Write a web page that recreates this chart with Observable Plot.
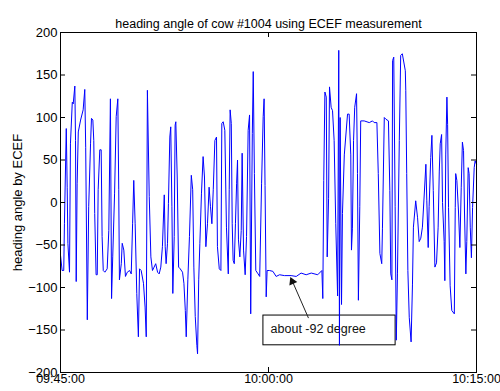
<!DOCTYPE html>
<html>
<head>
<meta charset="utf-8">
<script src="https://cdn.jsdelivr.net/npm/d3@7"></script>
<script src="https://cdn.jsdelivr.net/npm/@observablehq/plot@0.6"></script>
<style>
  html, body { margin: 0; padding: 0; background: #fff; }
</style>
</head>
<body>
<div id="chart"></div>
<script>
// ---------- data ----------
const chartTitle = "heading angle of cow #1004 using ECEF measurement";
const yAxisLabel = "heading angle by ECEF";
const startTime = "09:45:00";
const endTime = "10:15:00";
const xTickLabels = ["09:45:00", "10:00:00", "10:15:00"];
const yTickValues = [-200, -150, -100, -50, 0, 50, 100, 150, 200];

// seconds after 09:45:00
const secondsAfterStart = [
  0,7,14,17,25,29,32,39,43,51,55,62,65,68,72,77,87,98,105,109,116,122,130,134,140,144,148,154,159,163,
  170,176,180,185,192,202,209,216,221,226,234,241,248,252,255,263,267,274,281,289,299,306,312,317,323,330,337,342,349,359,
  366,371,376,384,391,398,405,412,420,427,434,441,449,453,457,463,467,473,477,482,486,492,496,499,505,511,518,528,534,540,
  544,551,558,566,572,577,583,590,593,598,603,610,617,623,629,636,643,649,655,661,668,675,679,687,694,698,704,711,718,726,
  730,734,739,743,747,752,757,762,766,770,776,782,786,792,799,805,812,818,823,830,834,839,845,855,862,870,877,881,885,890,
  894,904,919,933,948,969,998,1020,1041,1063,1085,1113,1131,1135,1139,1144,1150,1154,1160,1164,1171,1177,1184,1191,1199,1204,1207,1210,1216,1220,
  1228,1242,1249,1256,1259,1263,1268,1273,1281,1285,1289,1295,1299,1314,1336,1350,1357,1369,1375,1382,1390,1393,1401,1408,1419,1425,1429,1434,1437,1442,
  1448,1453,1458,1466,1472,1479,1492,1494,1498,1503,1509,1517,1523,1527,1537,1545,1552,1559,1566,1574,1581,1585,1591,1595,1602,1607,1613,1620,1627,1634,
  1639,1643,1649,1653,1660,1663,1667,1672,1675,1679,1686,1693,1704,1708,1710,1715,1722,1728,1734,1739,1744,1748,1754,1758,1764,1768,1773,1778,1783,1790,
  1794,1800
];
// heading angle (degrees)
const headingAngles = [
  -62,-80,-80,-25,87,18,-48,-82,69,118,116,137,73,-93,22,83,97,109,133,65,-138,-5,69,99,97,73,-13,-85,-85,15,
  62,62,-40,-80,-82,-78,-33,122,-113,-64,11,101,122,15,-91,-72,-48,-56,-87,-82,-80,-84,-25,26,-25,-107,-158,-78,-80,-95,
  -123,-158,132,7,-64,-80,-76,-72,-82,-84,-76,-52,9,-52,-72,-48,-1,77,89,-5,-107,-40,91,95,30,-76,-78,-82,-95,-127,
  -158,-91,-40,32,15,-76,-134,-168,-178,-91,-48,11,54,30,-52,-25,18,-5,-25,15,73,77,-52,-78,-80,93,95,85,-29,-84,
  15,109,93,-25,-68,-72,-25,22,50,-44,-64,-33,58,-56,-85,-40,85,103,-131,81,154,34,-80,-84,-87,22,101,122,20,-111,
  -80,-80,-81,-87,-85,-86,-86,-87,-83,-85,-83,-85,-80,-113,26,130,124,-64,5,136,112,108,73,-25,-110,179,-168,100,-120,-13,
  56,104,104,56,-56,-31,73,112,128,34,-115,-5,96,96,94,96,94,94,34,-60,-72,-31,100,98,96,14,-84,-91,167,171,
  -5,-162,-84,73,173,175,155,132,34,-80,-135,-164,-96,-29,2,-18,-46,-42,-29,10,45,2,-53,-5,53,79,14,-76,-71,-29,
  37,69,80,0,-46,-92,57,124,92,-6,-98,-127,-131,-6,34,26,-10,-53,18,71,61,-10,-84,-46,41,34,-29,-65,-6,41,
  49,45
];

// annotation (data coordinates)
const noteText = "about -92 degree";
const noteBox = [{x1: "09:59:38", x2: "10:09:10", y1: -133, y2: -168}];
const noteLabel = [{t: "10:00:09", v: -149}];
const noteArrow = [{x1: "10:02:53", y1: -136, x2: "10:01:39", y2: -90}];
const noteHead = [{t: "10:01:43", v: -93}];

// ---------- helpers ----------
const parseClock = s => {
  const [h, m, sec] = s.split(":").map(Number);
  return new Date(Date.UTC(2000, 0, 1, h, m, sec));
};
const t0 = parseClock(startTime);
const rows = secondsAfterStart.map((s, i) => ({t: new Date(+t0 + s * 1000), a: headingAngles[i]}));
const xTicks = xTickLabels.map(parseClock);
const fmt = d3.utcFormat("%H:%M:%S");

const W = 500, H = 391, mL = 60, mR = 24, mT = 32, mB = 19, tickLen = 5;
const frameW = W - mL - mR, frameH = H - mT - mB;
const ink = "#000";

const chart = Plot.plot({
  width: W,
  height: H,
  marginLeft: mL,
  marginRight: mR,
  marginTop: mT,
  marginBottom: mB,
  style: {fontFamily: "Arial, 'Liberation Sans', sans-serif", fontSize: "13px", background: "#fff", color: "#000"},
  x: {type: "utc", domain: [parseClock(startTime), parseClock(endTime)]},
  y: {domain: [-200, 200]},
  marks: [
    Plot.rect(noteBox, {x1: d => parseClock(d.x1), x2: d => parseClock(d.x2), y1: "y1", y2: "y2", fill: "#fff", stroke: ink, strokeWidth: 1}),
    Plot.text(noteLabel, {x: d => parseClock(d.t), y: "v", text: () => noteText, textAnchor: "start", fontSize: 12.5, fill: "#111"}),
    Plot.line(rows, {x: "t", y: "a", stroke: "#0000ff", strokeWidth: 1}),
    Plot.link(noteArrow, {x1: d => parseClock(d.x1), y1: "y1", x2: d => parseClock(d.x2), y2: "y2", stroke: "#222", strokeWidth: 1}),
    Plot.dot(noteHead, {x: d => parseClock(d.t), y: "v", symbol: "triangle", r: 3.2, fill: "#111", stroke: "none", rotate: -24}),
    Plot.frame({stroke: ink, strokeWidth: 1}),
    // inward ticks on all four sides
    Plot.tickY(yTickValues, {y: d => d, insetRight: frameW - tickLen, stroke: ink}),
    Plot.tickY(yTickValues, {y: d => d, insetLeft: frameW - tickLen, stroke: ink}),
    Plot.tickX(xTicks, {x: d => d, insetTop: frameH - tickLen, stroke: ink}),
    Plot.tickX(xTicks, {x: d => d, insetBottom: frameH - tickLen, stroke: ink}),
    Plot.axisY({ticks: yTickValues, tickSize: 0, tickPadding: 3, label: null, fontSize: 13}),
    Plot.axisX({ticks: xTicks, tickFormat: fmt, tickSize: 0, tickPadding: 2, label: null, fontSize: 12.5}),
    Plot.text([chartTitle], {text: d => d, frameAnchor: "top", dy: -13, fontSize: 12.5}),
    Plot.text([yAxisLabel], {text: d => d, frameAnchor: "left", textAnchor: "middle", rotate: -90, dx: -43, fontSize: 13})
  ]
});
document.getElementById("chart").appendChild(chart);
</script>
</body>
</html>
